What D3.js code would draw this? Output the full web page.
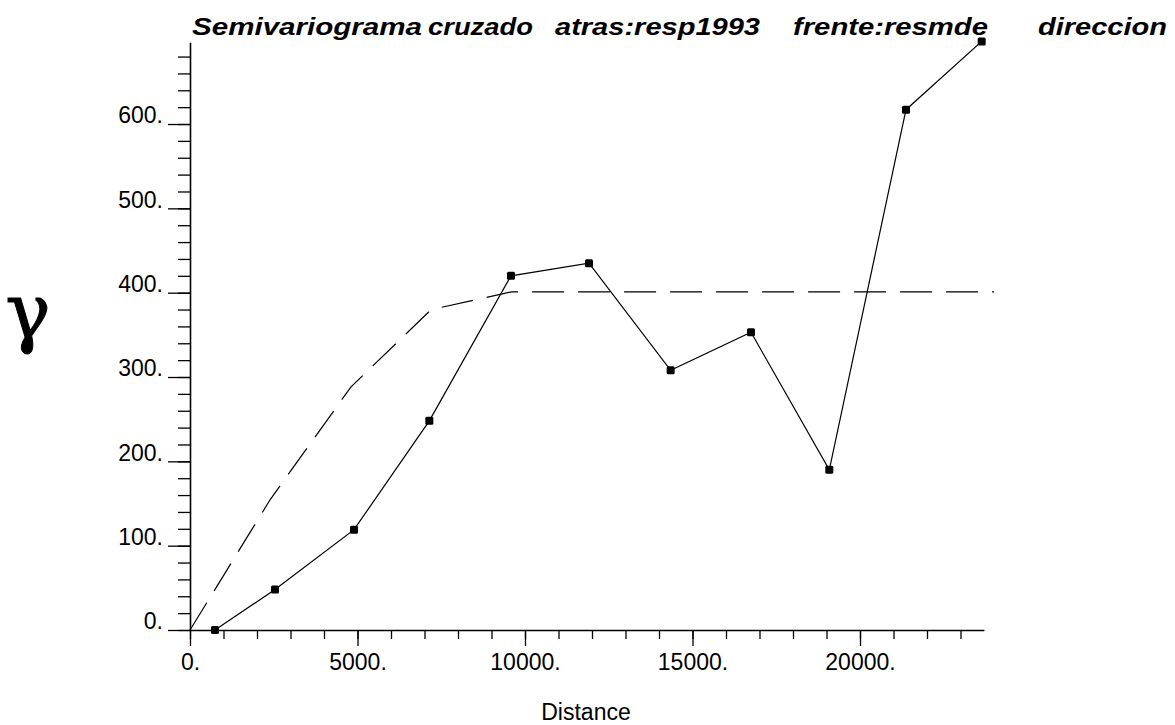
<!DOCTYPE html>
<html>
<head>
<meta charset="utf-8">
<script src="https://cdn.jsdelivr.net/npm/d3@7"></script>
<style>
  body { margin: 0; background: #fff; }
  svg { display: block; }
  text { font-family: "Liberation Sans", Arial, sans-serif; fill: #000; }
</style>
</head>
<body>
<svg width="1175" height="725"></svg>
<script>
// experimental semivariogram (lags, gamma)
const lagDist = [746, 2537, 4896, 7144, 9582, 11910, 14348, 16746, 19084, 21373, 23632];
const gammaVals = [0, 48, 119, 248, 420, 435, 308, 353, 190, 617, 698];

// fitted model (dashed)
const modelDist = [0, 2400, 4800, 7200, 9600, 24000];
const modelGamma = [0, 155, 288, 380, 401, 401];

const xMajor = [0, 5000, 10000, 15000, 20000];
const yMajor = [0, 100, 200, 300, 400, 500, 600];

const titleParts = ['Semivariograma', 'cruzado', 'atras:resp1993', 'frente:resmde', 'direccion'];

const svg = d3.select('svg');

const x = d3.scaleLinear()
    .domain([0, 23700])
    .range([190, 190 + 23700 * 0.0335]);

const y = d3.scaleLinear()
    .domain([0, 697])
    .range([630, 630 - 697 * 0.8433]);

// minor ticks first, then major ticks with labels
svg.append('g')
    .attr('transform', 'translate(0,630)')
    .call(d3.axisBottom(x).tickValues(d3.range(0, 23700, 1000)).tickSize(9).tickSizeOuter(0).tickFormat(''))
    .call(g => g.select('.domain').remove());

svg.append('g')
    .attr('transform', 'translate(190,0)')
    .call(d3.axisLeft(y).tickValues(d3.range(0, 697, 20)).tickSize(12).tickSizeOuter(0).tickFormat(''))
    .call(g => g.select('.domain').remove());

const xAxis = svg.append('g')
    .attr('transform', 'translate(0,630)')
    .call(d3.axisBottom(x).tickValues(xMajor).tickSize(16).tickPadding(8).tickSizeOuter(0).tickFormat(d => d + '.'));

const yAxis = svg.append('g')
    .attr('transform', 'translate(190,0)')
    .call(d3.axisLeft(y).tickValues(yMajor).tickSize(22).tickPadding(5).tickSizeOuter(0).tickFormat(d => d + '.'));

svg.selectAll('.tick line').attr('stroke', '#000').attr('stroke-width', 1.3);
svg.selectAll('.domain').attr('stroke', '#000').attr('stroke-width', 1.6);
svg.selectAll('.tick text')
    .style('font-family', '"Liberation Sans", Arial, sans-serif')
    .style('font-size', '23px')
    .attr('fill', '#000');
yAxis.selectAll('.tick text').attr('dy', '-0.05em');

// model curve
const line = d3.line().x(d => x(d[0])).y(d => y(d[1]));

svg.append('path')
    .datum(d3.zip(modelDist, modelGamma))
    .attr('d', line)
    .attr('fill', 'none')
    .attr('stroke', '#000')
    .attr('stroke-width', 1.2)
    .attr('stroke-dasharray', '32,14');

// experimental curve
const pts = d3.zip(lagDist, gammaVals);

svg.append('path')
    .datum(pts)
    .attr('d', line)
    .attr('fill', 'none')
    .attr('stroke', '#000')
    .attr('stroke-width', 1.2);

svg.selectAll('rect.pt')
    .data(pts)
    .enter()
    .append('rect')
    .attr('class', 'pt')
    .attr('x', d => x(d[0]) - 4)
    .attr('y', d => y(d[1]) - 4)
    .attr('width', 8)
    .attr('height', 8)
    .attr('rx', 1.5)
    .attr('fill', '#000');

// title, each word placed where it sits in the original
const titleX = [192, 428, 555, 793, 1038];
const titleW = [230, 105, 205, 195, 129];
svg.selectAll('text.title')
    .data(titleParts)
    .enter()
    .append('text')
    .attr('class', 'title')
    .attr('x', (d, i) => titleX[i])
    .attr('y', 35)
    .attr('textLength', (d, i) => titleW[i])
    .attr('lengthAdjust', 'spacingAndGlyphs')
    .style('font-size', '24px')
    .style('font-weight', 'bold')
    .style('font-style', 'italic')
    .text(d => d);

svg.append('text')
    .attr('x', 586)
    .attr('y', 720)
    .attr('text-anchor', 'middle')
    .style('font-size', '23px')
    .text('Distance');

svg.append('text')
    .attr('x', 28)
    .attr('y', 338)
    .attr('text-anchor', 'middle')
    .style('font-family', '"DejaVu Serif", serif')
    .style('font-size', '76px')
    .attr('stroke', '#000')
    .attr('stroke-width', 1)
    .text('γ');
</script>
</body>
</html>
